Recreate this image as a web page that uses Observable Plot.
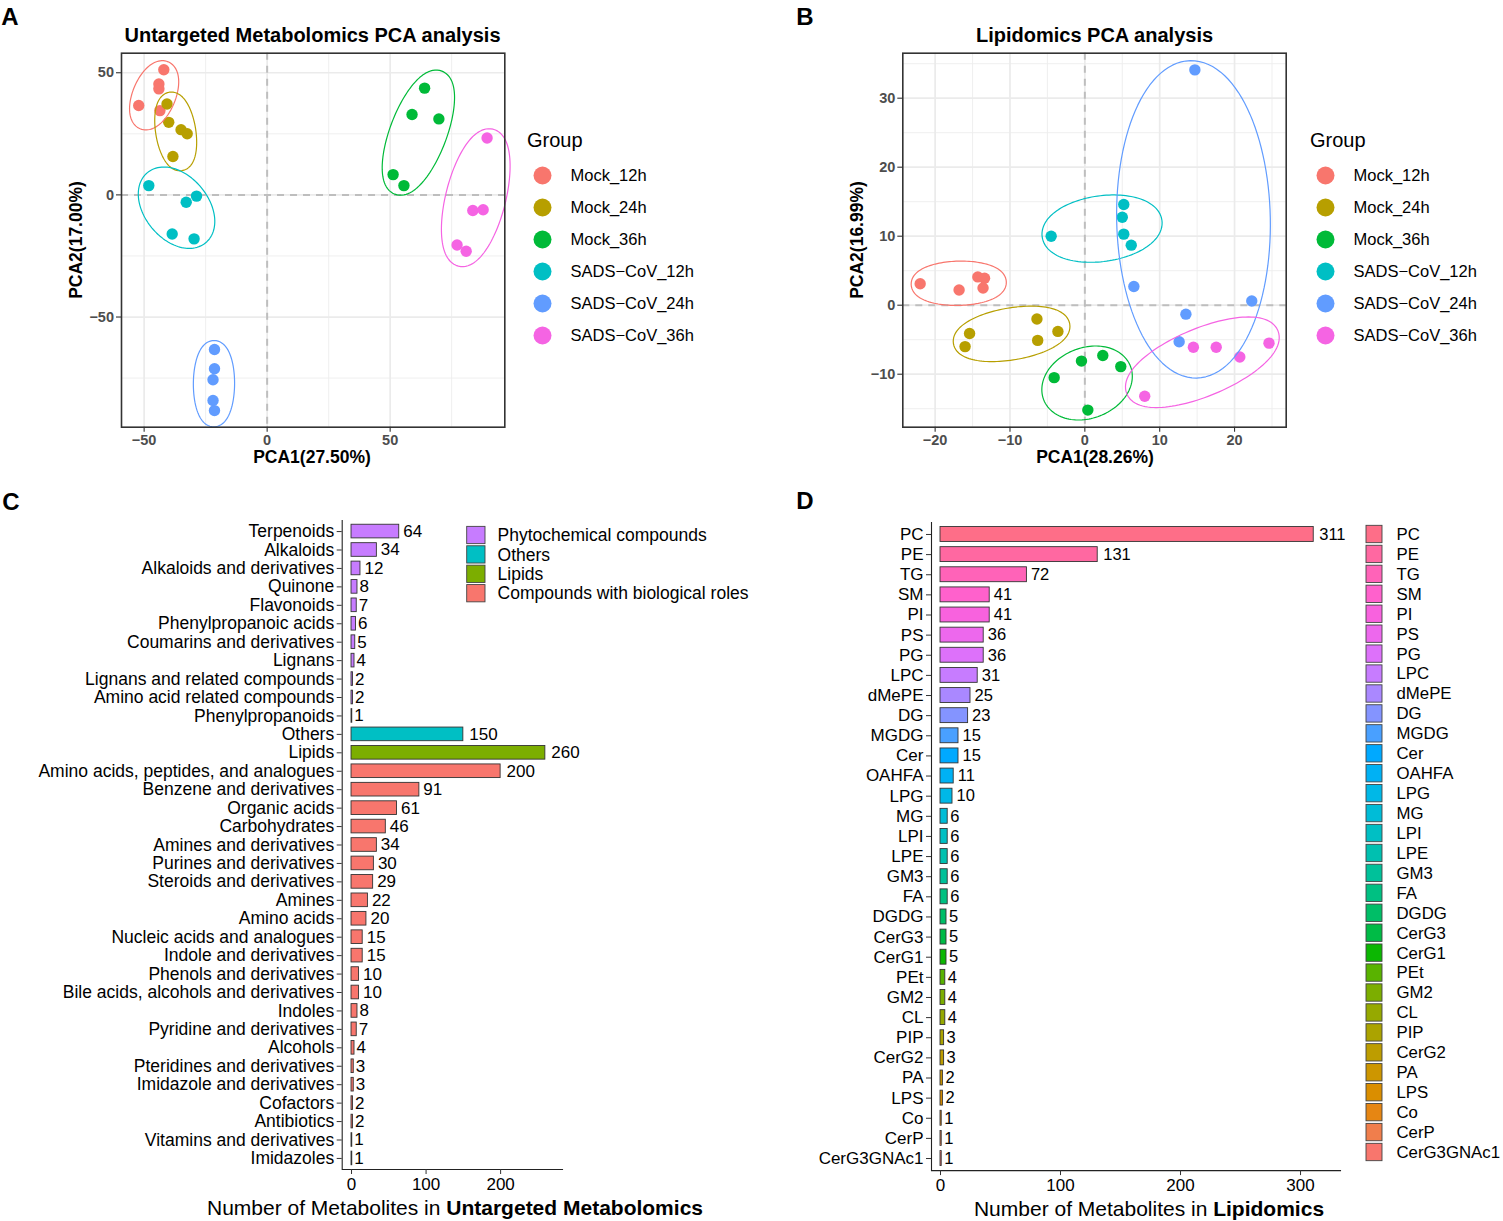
<!DOCTYPE html>
<html>
<head>
<meta charset="utf-8">
<script src="https://cdn.jsdelivr.net/npm/d3@7"></script>
<script src="https://cdn.jsdelivr.net/npm/@observablehq/plot@0.6"></script>
<style>
  html, body { margin: 0; padding: 0; background: #fff; }
  #root { position: relative; width: 1503px; height: 1221px; overflow: hidden; background: #fff; }
  #root svg { display: block; overflow: visible; }
</style>
</head>
<body>
<div id="root"></div>
<script>
// ---------------- DATA ----------------
const groups = ["Mock_12h", "Mock_24h", "Mock_36h", "SADS\u2212CoV_12h", "SADS\u2212CoV_24h", "SADS\u2212CoV_36h"];
const sampleGroup = groups.flatMap(g => [g, g, g, g, g]);

// Panel A: untargeted metabolomics PCA scores
const untargetedPCA1 = [-42.0, -44.0, -44.0, -52.2, -43.6,
                        -40.7, -40.0, -35.0, -32.5, -38.3,
                         64.0,  58.9,  69.8,  51.2,  55.6,
                        -48.1, -32.9, -28.7, -38.6, -29.7,
                        -21.4, -21.4, -22.0, -22.0, -21.4,
                         89.4,  83.6,  87.8,  77.2,  80.9];
const untargetedPCA2 = [ 51.2,  45.4,  43.4,  36.6,  34.5,
                         37.2,  29.7,  26.7,  25.0,  15.7,
                         43.7,  32.9,  31.1,   8.3,   3.8,
                          3.8,  -3.0,  -0.5, -16.0, -18.0,
                        -63.3, -71.2, -75.7, -84.2, -88.3,
                         23.3,  -6.4,  -6.1, -20.5, -23.1];

// Panel B: lipidomics PCA scores
const lipidPCA1 = [-22.0, -16.8, -14.3, -13.4, -13.6,
                   -15.4, -16.0,  -6.4,  -6.3,  -3.6,
                    -4.1,  -0.45,  2.4,   4.8,   0.4,
                    -4.5,   5.2,   5.0,   5.2,   6.2,
                    14.7,   6.55, 13.5,  12.6,  22.3,
                    14.5,  17.55, 20.7,  24.6,   8.0];
const lipidPCA2 = [  3.1,   2.2,   4.1,   3.9,   2.5,
                    -4.1,  -6.0,  -2.0,  -5.1,  -3.8,
                   -10.5,  -8.1,  -7.3,  -8.9, -15.2,
                    10.0,  14.6,  12.75, 10.3,   8.7,
                    34.1,   2.7,  -1.3,  -5.3,   0.6,
                    -6.1,  -6.1,  -7.5,  -5.5, -13.2];

// Panel C: untargeted metabolomics classes
const metabNames = ["Terpenoids", "Alkaloids", "Alkaloids and derivatives", "Quinone", "Flavonoids",
  "Phenylpropanoic acids", "Coumarins and derivatives", "Lignans", "Lignans and related compounds",
  "Amino acid related compounds", "Phenylpropanoids", "Others", "Lipids",
  "Amino acids, peptides, and analogues", "Benzene and derivatives", "Organic acids", "Carbohydrates",
  "Amines and derivatives", "Purines and derivatives", "Steroids and derivatives", "Amines", "Amino acids",
  "Nucleic acids and analogues", "Indole and derivatives", "Phenols and derivatives",
  "Bile acids, alcohols and derivatives", "Indoles", "Pyridine and derivatives", "Alcohols",
  "Pteridines and derivatives", "Imidazole and derivatives", "Cofactors", "Antibiotics",
  "Vitamins and derivatives", "Imidazoles"];
const metabCounts = [64, 34, 12, 8, 7, 6, 5, 4, 2, 2, 1, 150, 260, 200, 91, 61, 46, 34, 30, 29, 22, 20,
  15, 15, 10, 10, 8, 7, 4, 3, 3, 2, 2, 1, 1];
const metabClassOf = [0,0,0,0,0,0,0,0,0,0,0, 1, 2, 3,3,3,3,3,3,3,3,3,3,3,3,3,3,3,3,3,3,3,3,3,3];
const metabClasses = ["Phytochemical compounds", "Others", "Lipids", "Compounds with biological roles"];

// Panel D: lipid classes
const lipidNames = ["PC", "PE", "TG", "SM", "PI", "PS", "PG", "LPC", "dMePE", "DG", "MGDG", "Cer", "OAHFA",
  "LPG", "MG", "LPI", "LPE", "GM3", "FA", "DGDG", "CerG3", "CerG1", "PEt", "GM2", "CL", "PIP", "CerG2",
  "PA", "LPS", "Co", "CerP", "CerG3GNAc1"];
const lipidCounts = [311, 131, 72, 41, 41, 36, 36, 31, 25, 23, 15, 15, 11, 10, 6, 6, 6, 6, 6, 5, 5, 5,
  4, 4, 4, 3, 3, 2, 2, 1, 1, 1];

// ---------------- HELPERS ----------------
const FONT = '"Liberation Sans", Arial, Helvetica, sans-serif';
const root = document.getElementById("root");

// R-style hcl() (polar CIE-LUV) -> hex, as used by ggplot's default hue palette
function hcl(h, c, l) {
  const hr = h * Math.PI / 180;
  const U = c * Math.cos(hr), V = c * Math.sin(hr);
  const Xn = 95.047, Yn = 100.0, Zn = 108.883;
  const den = Xn + 15 * Yn + 3 * Zn;
  const un = 4 * Xn / den, vn = 9 * Yn / den;
  const Y = l > 7.999592 ? Yn * Math.pow((l + 16) / 116, 3) : Yn * l / 903.3;
  const u = U / (13 * l) + un, v = V / (13 * l) + vn;
  const X = 9 * Y * u / (4 * v);
  const Z = -X / 3 - 5 * Y + 3 * Y / v;
  const x = X / 100, y = Y / 100, z = Z / 100;
  const lin = [3.240479 * x - 1.537150 * y - 0.498535 * z,
               -0.969256 * x + 1.875992 * y + 0.041556 * z,
               0.055648 * x - 0.204043 * y + 1.057311 * z];
  const g = lin.map(t => {
    const s = t <= 0.0031308 ? 12.92 * t : 1.055 * Math.pow(t, 1 / 2.4) - 0.055;
    return Math.round(Math.max(0, Math.min(1, s)) * 255);
  });
  return "#" + g.map(k => k.toString(16).padStart(2, "0")).join("");
}
const huePal = n => d3.range(n).map(i => hcl(15 + i * 360 / n, 100, 65));

function place(node, left, top) {
  const d = document.createElement("div");
  d.style.cssText = `position:absolute;left:${left}px;top:${top}px;`;
  d.appendChild(node);
  root.appendChild(d);
}
function label(html, cx, cy, o = {}) {
  const d = document.createElement("div");
  const tx = o.anchor === "start" ? "0" : "-50%";
  d.style.cssText = `position:absolute;left:${cx}px;top:${cy}px;transform:translate(${tx},-50%)${o.rotate ? " rotate(-90deg)" : ""};` +
    `font-family:${FONT};font-size:${o.size || 16}px;font-weight:${o.weight || 400};white-space:nowrap;line-height:1;color:#000;`;
  d.innerHTML = html;
  root.appendChild(d);
}

// Minimum-volume enclosing ellipse (Khachiyan), computed in pixel space, then offset outward.
function inv3(m) {
  const [a, b, c] = m[0], [d, e, f] = m[1], [g, h, i] = m[2];
  const A = e * i - f * h, B = -(d * i - f * g), C = d * h - e * g;
  const det = a * A + b * B + c * C;
  return [[A / det, -(b * i - c * h) / det, (b * f - c * e) / det],
          [B / det, (a * i - c * g) / det, -(a * f - c * d) / det],
          [C / det, -(a * h - b * g) / det, (a * e - b * d) / det]];
}
function enclosingEllipse(P, tol = 0.001, minRatio = 0.34) {
  const n = P.length;
  const mx = d3.mean(P, p => p[0]), my = d3.mean(P, p => p[1]);
  const Q = P.map(p => [p[0] - mx, p[1] - my, 1]);
  let u = Array(n).fill(1 / n);
  for (let it = 0; it < 5000; it++) {
    const X = [[0, 0, 0], [0, 0, 0], [0, 0, 0]];
    Q.forEach((q, k) => { for (let a = 0; a < 3; a++) for (let b = 0; b < 3; b++) X[a][b] += u[k] * q[a] * q[b]; });
    const Xi = inv3(X);
    const M = Q.map(q => { let s = 0; for (let a = 0; a < 3; a++) for (let b = 0; b < 3; b++) s += q[a] * Xi[a][b] * q[b]; return s; });
    const j = d3.maxIndex(M), mj = M[j];
    const step = (mj - 3) / (3 * (mj - 1));
    const nu = u.map(v => v * (1 - step)); nu[j] += step;
    const err = Math.sqrt(d3.sum(nu, (v, k) => (v - u[k]) ** 2));
    u = nu;
    if (err < tol) break;
  }
  const cx = d3.sum(Q, (q, k) => u[k] * q[0]), cy = d3.sum(Q, (q, k) => u[k] * q[1]);
  let sxx = -cx * cx, sxy = -cx * cy, syy = -cy * cy;
  Q.forEach((q, k) => { sxx += u[k] * q[0] * q[0]; sxy += u[k] * q[0] * q[1]; syy += u[k] * q[1] * q[1]; });
  const tr = (sxx + syy) / 2, df = (sxx - syy) / 2, disc = Math.sqrt(df * df + sxy * sxy);
  const E = { cx: cx + mx, cy: cy + my, a: Math.sqrt(2 * (tr + disc)), b: Math.sqrt(Math.max(2 * (tr - disc), 1e-4)),
              theta: 0.5 * Math.atan2(2 * sxy, sxx - syy) };
  // keep very flat ellipses from collapsing: enforce a minimum axis ratio, still enclosing all points
  if (E.b < minRatio * E.a) {
    const ct = Math.cos(E.theta), st = Math.sin(E.theta);
    const a2 = d3.max(P, p => {
      const dx = p[0] - E.cx, dy = p[1] - E.cy;
      const lu = dx * ct + dy * st, lv = -dx * st + dy * ct;
      return Math.sqrt(lu * lu + (lv / minRatio) ** 2);
    });
    E.a = a2; E.b = minRatio * a2;
  }
  return E;
}
function ellipsePaths(pc1, pc2, grp, xs, ys, expand) {
  const out = [];
  for (const g of groups) {
    const P = [];
    grp.forEach((gg, k) => { if (gg === g) P.push([xs(pc1[k]), ys(pc2[k])]); });
    const E = enclosingEllipse(P);
    const ct = Math.cos(E.theta), st = Math.sin(E.theta);
    for (let s = 0; s <= 120; s++) {
      const t = 2 * Math.PI * s / 120;
      let lx = E.a * Math.cos(t), ly = E.b * Math.sin(t);
      let nx = Math.cos(t) / E.a, ny = Math.sin(t) / E.b;
      const nl = Math.hypot(nx, ny); nx /= nl; ny /= nl;
      lx += expand * nx; ly += expand * ny;
      const px = E.cx + lx * ct - ly * st, py = E.cy + lx * st + ly * ct;
      out.push({ group: g, x: xs.invert(px), y: ys.invert(py) });
    }
  }
  return out;
}

const groupColors = huePal(6);

// ---------------- PCA PANELS ----------------
function pcaPanel(pc1, pc2, cfg) {
  const W = 520, H = 475;
  const xs = d3.scaleLinear(cfg.xDomain, [cfg.mL, W - cfg.mR]);
  const ys = d3.scaleLinear(cfg.yDomain, [H - cfg.mB, cfg.mT]);
  const pts = pc1.map((v, k) => ({ x: v, y: pc2[k], group: sampleGroup[k] }));
  const ell = ellipsePaths(pc1, pc2, sampleGroup, xs, ys, 9);
  const tickStyle = { tickSize: 5, tickPadding: 2.5, fontSize: 14.5, fontWeight: "bold", fill: "#4d4d4d", stroke: "#333", strokeWidth: 1.1, label: null };
  return Plot.plot({
    width: W, height: H,
    marginLeft: cfg.mL, marginRight: cfg.mR, marginTop: cfg.mT, marginBottom: cfg.mB,
    style: { fontFamily: FONT, background: "transparent", overflow: "visible" },
    x: { domain: cfg.xDomain },
    y: { domain: cfg.yDomain },
    color: { domain: groups, range: groupColors },
    marks: [
      Plot.gridX({ ticks: cfg.xMinor, stroke: "#ededed", strokeOpacity: 1, strokeWidth: 0.9 }),
      Plot.gridY({ ticks: cfg.yMinor, stroke: "#ededed", strokeOpacity: 1, strokeWidth: 0.9 }),
      Plot.gridX({ ticks: cfg.xMajor, stroke: "#ebebeb", strokeOpacity: 1, strokeWidth: 1.7 }),
      Plot.gridY({ ticks: cfg.yMajor, stroke: "#ebebeb", strokeOpacity: 1, strokeWidth: 1.7 }),
      Plot.ruleX([0], { stroke: "#bebebe", strokeWidth: 2, strokeDasharray: "7,6" }),
      Plot.ruleY([0], { stroke: "#bebebe", strokeWidth: 2, strokeDasharray: "7,6" }),
      Plot.dot(pts, { x: "x", y: "y", fill: "group", r: 5.7 }),
      Plot.line(ell, { x: "x", y: "y", z: "group", stroke: "group", strokeWidth: 1.2, curve: "linear" }),
      Plot.frame({ stroke: "#333", strokeWidth: 1.6 }),
      Plot.axisX({ ticks: cfg.xMajor, ...tickStyle }),
      Plot.axisY({ ticks: cfg.yMajor, ...tickStyle })
    ]
  });
}

place(pcaPanel(untargetedPCA1, untargetedPCA2, {
  xDomain: [-59.2, 96.6], yDomain: [-95.1, 58.0],
  mL: 121, mR: 15.7, mT: 52.7, mB: 48.3,
  xMajor: [-50, 0, 50], xMinor: [-25, 25, 75],
  yMajor: [-50, 0, 50], yMinor: [-75, -25, 25]
}), 0, 0);

place(pcaPanel(lipidPCA1, lipidPCA2, {
  xDomain: [-24.32, 26.9], yDomain: [-17.68, 36.52],
  mL: 122.3, mR: 14.3, mT: 52.7, mB: 48.3,
  xMajor: [-20, -10, 0, 10, 20], xMinor: [-15, -5, 5, 15, 25],
  yMajor: [-10, 0, 10, 20, 30], yMinor: [-15, -5, 5, 15, 25, 35]
}), 780, 0);

// Group legends for A and B
function groupLegend() {
  return Plot.plot({
    width: 200, height: 230, margin: 0,
    style: { fontFamily: FONT, background: "transparent", overflow: "visible" },
    x: { type: "point", domain: ["key"], range: [27, 27], padding: 0, axis: null },
    y: { type: "point", domain: groups, range: [55, 215], padding: 0, round: false, axis: null },
    color: { domain: groups, range: groupColors },
    marks: [
      Plot.dot(groups, { x: () => "key", y: d => d, fill: d => d, r: 9 }),
      Plot.text(groups, { x: () => "key", y: d => d, text: d => d, dx: 28, textAnchor: "start", fontSize: 16.5, fill: "#000" })
    ]
  });
}
place(groupLegend(), 515, 120);
place(groupLegend(), 1298, 120);

// ---------------- BAR PANELS ----------------
function barPanel(names, counts, colorOf, colorDomain, colorRange, cfg) {
  const data = names.map((n, k) => ({ name: n, value: counts[k], cls: colorOf(k) }));
  const digits = k => data.filter(d => String(d.value).length === k);
  const textStyle = { x: "value", y: "name", text: d => String(d.value), textAnchor: "start", fontSize: cfg.valueSize, fill: "#000" };
  return Plot.plot({
    width: cfg.W, height: cfg.H,
    marginLeft: cfg.mL, marginRight: cfg.mR, marginTop: cfg.mT, marginBottom: cfg.mB,
    style: { fontFamily: FONT, background: "transparent", overflow: "visible" },
    x: { domain: cfg.xDomain },
    y: { type: "band", domain: names, paddingInner: 0.26, paddingOuter: 0.23, round: false },
    color: { domain: colorDomain, range: colorRange },
    marks: [
      Plot.barX(data, { x: "value", y: "name", fill: "cls", stroke: "#333", strokeWidth: 0.9 }),
      Plot.text(digits(1), { ...textStyle, dx: cfg.dx[0] }),
      Plot.text(digits(2), { ...textStyle, dx: cfg.dx[1] }),
      Plot.text(digits(3), { ...textStyle, dx: cfg.dx[2] }),
      Plot.ruleX([cfg.xDomain[0]], { stroke: "#222", strokeWidth: 1.1 }),
      Plot.frame({ anchor: "bottom", stroke: "#222", strokeWidth: 1.1 }),
      Plot.axisY({ tickSize: 5, tickPadding: 3, fontSize: cfg.labelSize, fill: "#000", stroke: "#333", strokeWidth: 1, label: null }),
      Plot.axisX({ ticks: cfg.xTicks, tickSize: 5, tickPadding: 3, fontSize: 17, fill: "#000", stroke: "#333", strokeWidth: 1, label: null })
    ]
  });
}

// Panel C colours: 4-level hue palette (factor levels in reverse display order)
const classPal = huePal(4); // [Compounds, Lipids, Others, Phytochemical]
const classColors = metabClasses.map((c, k) => classPal[metabClasses.length - 1 - k]);

place(barPanel(metabNames, metabCounts, k => metabClasses[metabClassOf[k]], metabClasses, classColors, {
  W: 780, H: 731, mL: 341.7, mR: 218, mT: 30, mB: 52,
  xDomain: [-12.5, 283], xTicks: [0, 100, 200], labelSize: 17.5, valueSize: 17, dx: [2, 4, 6]
}), 0, 490);

// Panel D colours: 32-level hue palette, first level = last row
const lipidPal = huePal(lipidNames.length);
const lipidColors = lipidNames.map((n, k) => lipidPal[lipidNames.length - 1 - k]);

place(barPanel(lipidNames, lipidCounts, k => lipidNames[k], lipidNames, lipidColors, {
  W: 723, H: 731, mL: 151, mR: 163, mT: 31.9, mB: 50.9,
  xDomain: [-7.5, 333.3], xTicks: [0, 100, 200, 300], labelSize: 17, valueSize: 16.5, dx: [2.5, 4, 5.5]
}), 780, 490);

// Fill legends for C and D
function fillLegend(keys, colors, cfg) {
  return Plot.plot({
    width: cfg.W, height: cfg.H, margin: 0,
    style: { fontFamily: FONT, background: "transparent", overflow: "visible" },
    x: { type: "band", domain: ["key"], range: cfg.xRange, padding: 0, round: false, axis: null },
    y: { type: "band", domain: keys, range: cfg.yRange, paddingInner: cfg.pad, paddingOuter: cfg.pad / 2, round: false, axis: null },
    color: { domain: keys, range: colors },
    marks: [
      Plot.cell(keys, { x: () => "key", y: d => d, fill: d => d, stroke: "#444", strokeWidth: 0.9 }),
      Plot.text(keys, { x: () => "key", y: d => d, text: d => d, dx: cfg.dx, textAnchor: "start", fontSize: cfg.size, fill: "#000" })
    ]
  });
}
place(fillLegend(metabClasses, classColors, {
  W: 320, H: 100, xRange: [11.7, 30], yRange: [10.3, 87.9], pad: 0.11, dx: 21.2, size: 17.5
}), 455, 515);
place(fillLegend(lipidNames, lipidColors, {
  W: 148, H: 660, xRange: [11, 27], yRange: [9.03, 646.97], pad: 0.13, dx: 22, size: 16.8
}), 1355, 515);

// ---------------- TEXT ----------------
label("A", 10, 17, { size: 24, weight: 700 });
label("B", 805, 17, { size: 24, weight: 700 });
label("C", 11, 502, { size: 24, weight: 700 });
label("D", 805, 501, { size: 24, weight: 700 });
label("Untargeted Metabolomics PCA analysis", 312.5, 35, { size: 20, weight: 700 });
label("Lipidomics PCA analysis", 1094.5, 35, { size: 20, weight: 700 });
label("PCA1(27.50%)", 312, 458, { size: 17.5, weight: 700 });
label("PCA1(28.26%)", 1095, 458, { size: 17.5, weight: 700 });
label("PCA2(17.00%)", 77, 240, { size: 17.5, weight: 700, rotate: true });
label("PCA2(16.99%)", 858, 240, { size: 17.5, weight: 700, rotate: true });
label("Group", 527, 140, { size: 20, anchor: "start" });
label("Group", 1310, 140, { size: 20, anchor: "start" });
label("Number of Metabolites in <b>Untargeted Metabolomics</b>", 455, 1207, { size: 21 });
label("Number of Metabolites in <b>Lipidomics</b>", 1149, 1208, { size: 21 });
</script>
</body>
</html>
